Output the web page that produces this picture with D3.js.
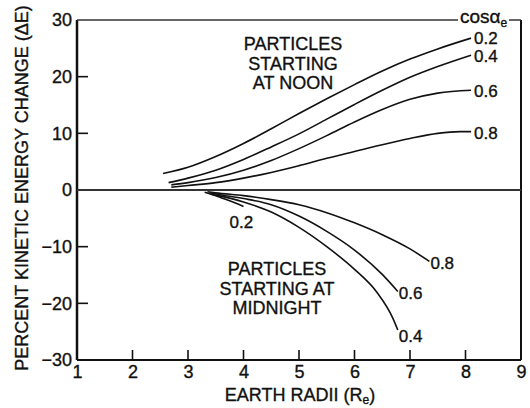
<!DOCTYPE html>
<html>
<head>
<meta charset="utf-8">
<script src="https://cdn.jsdelivr.net/npm/d3@7"></script>
<style>
  html, body { margin: 0; padding: 0; background: #fff; }
  svg text { font-family: "Liberation Sans", Arial, Helvetica, sans-serif; fill: #111; stroke: #111; stroke-width: 0.35px; }
</style>
</head>
<body>
<svg id="chart" width="530" height="408"></svg>
<script>
// Energy change vs. radial distance, particles starting at noon (gain) and midnight (loss)
const xTicks = [1, 2, 3, 4, 5, 6, 7, 8, 9];
const yTicks = [30, 20, 10, 0, -10, -20, -30];

// Noon curves, [earth radii, percent ΔE]
const noon02 = [[2.55,2.9],[3,4.0],[3.5,5.9],[4,8.2],[4.5,10.8],[5,13.5],[5.5,16.1],[6,18.6],[6.5,21.0],[7,23.1],[7.5,24.9],[8.1,26.8]];
const noon04 = [[2.65,1.3],[3,2.1],[3.5,3.5],[4,5.4],[4.5,7.6],[5,9.9],[5.5,12.5],[6,15.1],[6.5,17.6],[7,19.9],[7.5,21.8],[8.1,23.8]];
const noon06 = [[2.7,0.9],[3,1.3],[3.5,2.2],[4,3.5],[4.5,5.2],[5,7.3],[5.5,9.6],[6,12.0],[6.5,14.2],[7,16.0],[7.5,17.1],[8.1,17.6]];
const noon08 = [[2.7,0.5],[3,0.8],[3.5,1.3],[4,2.1],[4.5,3.1],[5,4.3],[5.5,5.6],[6,6.8],[6.5,8.0],[7,9.1],[7.5,10.0],[7.9,10.3],[8.1,10.3]];

// Midnight curves
const midnight02 = [[3.3,-0.4],[3.5,-1.0],[3.75,-1.9],[4.0,-2.9]];
const midnight04 = [[3.4,-0.7],[3.5,-0.9],[4,-2.1],[4.5,-3.9],[5,-6.6],[5.5,-10.0],[6,-14.0],[6.4,-18.0],[6.69,-22.6],[6.78,-24.7]];
const midnight06 = [[3.4,-0.5],[3.5,-0.7],[4,-1.5],[4.5,-2.6],[5,-4.6],[5.5,-7.3],[6,-10.6],[6.5,-14.9],[6.78,-17.9]];
const midnight08 = [[3.35,-0.3],[3.5,-0.5],[4,-1.0],[4.5,-1.7],[5,-2.6],[5.5,-4.0],[6,-5.8],[6.5,-7.9],[7,-10.4],[7.35,-12.6]];

const cosLabels = ["0.2", "0.4", "0.6", "0.8"];
const noonSeries = [noon02, noon04, noon06, noon08];
const midnightSeries = [midnight02, midnight04, midnight06, midnight08];

const svg = d3.select("#chart");
const x = d3.scaleLinear().domain([1, 9]).range([77, 521]);
const y = d3.scaleLinear().domain([-30, 30]).range([360, 20]);

const line = d3.line()
  .x(d => x(d[0]))
  .y(d => y(d[1]))
  .curve(d3.curveMonotoneX);

// frame
svg.append("line").attr("x1", x(1)).attr("x2", x(1)).attr("y1", y(30)).attr("y2", y(-30))
  .attr("stroke", "#111").attr("stroke-width", 2.5);
svg.append("line").attr("x1", x(1)).attr("x2", x(9)).attr("y1", y(-30)).attr("y2", y(-30))
  .attr("stroke", "#111").attr("stroke-width", 2.2);
svg.append("line").attr("x1", x(9)).attr("x2", x(9)).attr("y1", y(30)).attr("y2", y(-30))
  .attr("stroke", "#111").attr("stroke-width", 2);
svg.append("line").attr("x1", x(1)).attr("x2", x(9)).attr("y1", y(30)).attr("y2", y(30))
  .attr("stroke", "#333").attr("stroke-width", 1.6);
// zero line
svg.append("line").attr("x1", x(1)).attr("x2", x(9)).attr("y1", y(0)).attr("y2", y(0))
  .attr("stroke", "#333").attr("stroke-width", 2);

// y axis ticks and labels
const yAxis = d3.axisLeft(y).tickValues(yTicks).tickSize(0).tickPadding(5)
  .tickFormat(d => d < 0 ? "\u2212" + Math.abs(d) : d);
const gy = svg.append("g").attr("transform", `translate(${x(1)},0)`).call(yAxis);
gy.select(".domain").remove();
gy.selectAll("text").attr("font-size", 18).attr("fill", "#111")
  .attr("font-family", '"Liberation Sans", Arial, sans-serif');
svg.append("g").selectAll("line").data(yTicks.filter(d => Math.abs(d) !== 30 && d !== 0)).join("line")
  .attr("x1", x(1)).attr("x2", x(1) + 11)
  .attr("y1", d => y(d)).attr("y2", d => y(d))
  .attr("stroke", "#111").attr("stroke-width", 1.6);

// x axis ticks and labels
const xAxis = d3.axisBottom(x).tickValues(xTicks).tickSize(0).tickPadding(5).tickFormat(d3.format("d"));
const gx = svg.append("g").attr("transform", `translate(0,${y(-30)})`).call(xAxis);
gx.select(".domain").remove();
gx.selectAll("text").attr("font-size", 18).attr("fill", "#111")
  .attr("font-family", '"Liberation Sans", Arial, sans-serif');
svg.append("g").selectAll("line").data(xTicks.slice(1, -1)).join("line")
  .attr("x1", d => x(d)).attr("x2", d => x(d))
  .attr("y1", y(-30)).attr("y2", y(-30) - 10)
  .attr("stroke", "#111").attr("stroke-width", 1.6);

// axis titles
const xt = svg.append("text").attr("x", 300).attr("y", 401).attr("text-anchor", "middle").attr("font-size", 18);
xt.append("tspan").text("EARTH RADII (R");
xt.append("tspan").text("e").attr("font-size", 12).attr("dy", 3);
xt.append("tspan").text(")").attr("dy", -3);

svg.append("text")
  .attr("transform", "translate(28,188) rotate(-90)")
  .attr("text-anchor", "middle").attr("font-size", 18)
  .text("PERCENT KINETIC ENERGY CHANGE (\u0394E)");

// curves
svg.append("g").selectAll("path").data(noonSeries.concat(midnightSeries)).join("path")
  .attr("d", line).attr("fill", "none").attr("stroke", "#111").attr("stroke-width", 1.6);

// curve labels at the noon curve ends
svg.append("g").selectAll("text").data(noonSeries).join("text")
  .attr("x", d => x(d[d.length - 1][0]) + 3)
  .attr("y", (d, i) => y(d[d.length - 1][1]) + (i === 0 ? 6 : 7))
  .attr("font-size", 17)
  .text((d, i) => cosLabels[i]);

// midnight labels
const midLabelPos = [
  d => [x(d[d.length - 1][0]) - 14, y(d[d.length - 1][1]) + 22],
  d => [x(d[d.length - 1][0]) + 1, y(d[d.length - 1][1]) + 12],
  d => [x(d[d.length - 1][0]) + 1, y(d[d.length - 1][1]) + 8],
  d => [x(d[d.length - 1][0]) + 1, y(d[d.length - 1][1]) + 8]
];
svg.append("g").selectAll("text").data(midnightSeries).join("text")
  .attr("x", (d, i) => midLabelPos[i](d)[0])
  .attr("y", (d, i) => midLabelPos[i](d)[1])
  .attr("font-size", 17)
  .text((d, i) => cosLabels[i]);

// cos αe header over the top frame
const hdr = svg.append("g");
hdr.append("rect").attr("x", 458).attr("y", 8).attr("width", 51).attr("height", 22).attr("fill", "#fff");
const ht = hdr.append("text").attr("x", 460).attr("y", 23).attr("font-size", 19);
ht.append("tspan").text("cos\u03B1");
ht.append("tspan").text("e").attr("font-size", 12).attr("dy", 4);

// region annotations
const noonText = ["PARTICLES", "STARTING", "AT NOON"];
svg.append("g").selectAll("text").data(noonText).join("text")
  .attr("x", 293).attr("y", (d, i) => 50 + i * 19.5)
  .attr("text-anchor", "middle").attr("font-size", 18).text(d => d);

const midText = ["PARTICLES", "STARTING AT", "MIDNIGHT"];
svg.append("g").selectAll("text").data(midText).join("text")
  .attr("x", 277).attr("y", (d, i) => 275 + i * 19.5)
  .attr("text-anchor", "middle").attr("font-size", 18).text(d => d);
</script>
</body>
</html>
